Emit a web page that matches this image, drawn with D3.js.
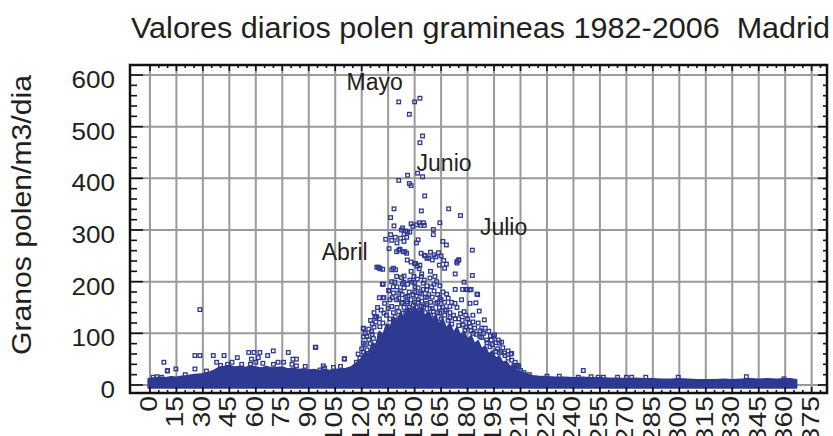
<!DOCTYPE html>
<html>
<head>
<meta charset="utf-8">
<script src="https://cdn.jsdelivr.net/npm/d3@7"></script>
<style>
body{margin:0;background:#fff}
svg{display:block}
</style>
</head>
<body>
<svg id="svgx"></svg>
<script>
// tick labels
var xTicks=[0,15,30,45,60,75,90,105,120,135,150,165,180,195,210,225,240,255,270,285,300,315,330,345,360,375];
var yTicks=[0,100,200,300,400,500,600];

// dense core of the cloud (day -> upper edge of the solid band)
var envDay=[-1,3,6,9,12,15,18,21,24,27,30,33,36,39,42,45,48,51,54,57,60,63,66,69,72,75,78,81,84,87,90,93,96,99,102,105,108,111,114,117,120,122,124,126,128,130,132,134,136,138,140,142,144,146,148,150,152,154,156,158,160,162,164,166,168,170,172,174,176,178,180,182,184,186,188,190,192,194,196,198,200,202,204,206,208,210,212,214,217,220,225,230,235,240,245,250,255,260,265,270,275,280,285,290,295,300,305,310,315,320,325,330,335,340,345,350,355,360,363,366.5];
var envVal=[12,14,15,14,16,15,17,18,20,21,22,24,28,34,36,38,35,36,34,37,35,33,36,33,34,35,31,33,30,31,29,30,28,30,28,30,31,32,35,43,52,64,60,82,78,104,96,118,110,132,124,140,130,150,138,152,140,150,132,142,126,136,118,128,110,120,102,112,96,104,88,96,80,86,70,76,60,66,52,56,44,46,36,38,28,26,24,21,18,17,16,15,15,14,15,14,14,13,13,12,13,12,12,11,11,12,11,10,10,10,11,10,11,12,11,12,11,12,12,10];

// single days standing out of the band [day, granos/m3]
var picos=[[141,548],[150,548],[153,555],[147,524],[153,469],[154.5,482],[146,406],[141,396],[147,390],[148,386],[151.7,410],[154.5,403],[155.7,366],[153.8,337],[138.3,341],[136.4,324],[138.3,308],[152.6,314],[155,314],[149,307],[143.2,304],[160.6,301],[160.6,291],[164.3,314],[169.3,341],[176,328],[145,298],[146,296],[148,312],[151,310],[136.4,291],[133.6,282],[142,284],[144,278],[140,275],[182.7,261],[166,278],[168,271],[135.5,264],[128.6,228],[130.4,225],[141,261],[144.5,258],[151,275],[152,281],[153.7,255],[156,250],[157,245],[159,257],[161,252],[162,248],[175,242],[174,236],[173,215],[182.7,212],[178,199],[179,185],[182,185],[185.7,175],[184.7,159],[186.6,143],[189.5,126],[193.4,87],[198,81],[195.3,97],[121,110],[125,125],[128,132],[132.6,139],[121,93],[121,81],[130,169],[132.6,169],[131.7,195],[135.5,182],[138.8,199],[143.8,199],
[142.5,300],[144,292],[145.5,286],[147.3,296],[153.5,309],[155.5,309],[141.7,263],[143.6,258],[145.5,255],[139.8,258],[137,280],[139,286],[163.5,256],[165,250],[166.5,241],[168,234],[150,235],[151.5,230],[152.6,225]];

var nube=[[129.4,228],[130.3,226],[131.9,224],[137,223],[138,226],[139.2,223],[145.8,242],[148,238],[150.5,235],[153,232],[155.5,251],[158,246],[160,242],[164,232],[167,226],[174,239],[175,242],
[139.8,210],[142.6,208],[144,211],[147.3,203],[149.6,210],[151.5,205],[153.9,210],[155.5,203],[158.7,207],[161.5,210],[162.5,200],
[137,200],[137.9,190],[143,196],[148.3,199],[150.2,190],[154.9,197],[159.6,190],[156.8,184],[164.3,192],[132.2,195],[135.3,183],[137.3,169],[132.2,169],
[168.1,176],[164.3,169],[173,185],[177.2,185],[179.8,185],[181.4,184],[185.3,176],
[139.8,165],[142.6,158],[145.5,161],[149.2,155],[152.1,165],[153.9,152],[156.8,158],[158.7,148],[147.3,145],[143.6,139],[151.1,139],[155.8,132],[160.6,142],[164.3,139],[167.2,145],[170,152],[172.9,158],[176.6,165],[181.4,158],[177.6,116],[181.6,113],[127.5,132],[128.5,132],[137.9,126],[141.7,119],[145.5,129],[135.1,113],[130.3,113],[125.6,103],[120.9,109],
[122.8,94],[126.6,90],[130.3,97],[134.1,100],[138.8,103],[151.1,106],[156.8,103],[162.5,106],[168.1,103],[173.8,100],[178.5,106],[183.2,100],[187,94],[190.8,87],[194.6,94],[197.4,87],[192.7,74],[199.3,83],
[141,178],[146,172],[150,180],[154,176],[157,170],[161,182],[163,160],[166,150],[170,130],[175,128],[179,135],[183,122],[188,110],[192,104]];

var nube2=[[126,118],[127,140],[128,122],[129,150],[130,128],[131,145],[132,120],[133,158],[134,135],[135,148],[136,165],[136,128],[137,152],[138,140],[138,178],[139,132],[140,150],[140,190],[141,142],[141,168],[142,182],[142,128],[143,160],[143,175],[144,150],[144,188],[145,140],[145,170],[146,158],[146,195],[147,180],[147,150],[148,165],[148,220],[149,175],[149,145],[150,160],[150,198],[151,150],[151,172],[152,188],[152,160],[153,145],[153,178],[154,162],[154,215],[155,150],[155,185],[156,170],[156,140],[157,192],[157,155],[158,175],[158,135],[159,160],[159,220],[160,148],[160,170],[161,135],[161,195],[162,158],[163,140],[163,175],[164,150],[165,128],[165,165],[166,180],[167,135],[167,160],[168,145],[169,125],[169,168],[170,140],[171,118],[171,160],[172,135],[173,128],[174,150],[175,115],[176,138],[177,125],[178,142],[179,112],[180,128],[181,120],[182,105],[183,135],[184,110],[185,98],[186,120],[187,105],[188,92],[189,100],[190,110],[191,82],[193,95],[194,78],[196,82],[197,70],[199,65],[201,62],[203,52],[205,48],[207,44],[209,35],
[118,60],[119,52],[120,70],[121,64],[122,78],[123,68],[124,88],[125,80],[122,100],[124,108],[126,98],[127,112]];

var resto=[[1.9,15],[4,16],[6.6,15],[7.9,44],[9.8,27],[10,28],[14.7,31],[20,20],[25.5,57],[28.3,57],[25.5,31],[28.3,146],[32,27],[35.9,57],[37.8,44],[42,57],[46.5,44],[49.5,53],[56,63],[59,63],[62.3,63],[57.5,50],[61.4,53],[60,44],[57,40],[66.7,57],[69.9,66],[72.6,44],[75.7,44],[78.4,63],[81,50],[83,50],[80.5,40],[83,37],[94,73],[98.2,37],[99,33],[110.1,50],[117,44],[119,44],[96.4,29],[40,38],[44,40],[52,40],[64,42],[70,40],[88,36],[104,34],[108,36],[93.7,73],[110.3,51],
[205,61],[201.2,57],[206.3,38],[208.7,38],[204.6,60],[207.8,37],[245.6,28],[242.7,15],[254,15],[257,15],[265,15],[270,15],[273,15],[281,15],[299.4,15],[338,16],[359.3,12],[200,72],[203,66],[196,65],[198,62],[210,28],[212,24],[215,20],[225,17],[232,17],[250,16]];

var meses=[{name:'Mayo',day:111.4,val:571},{name:'Junio',day:151.1,val:414},{name:'Julio',day:187,val:290},{name:'Abril',day:97.3,val:242}];
var titulo='Valores diarios polen gramineas 1982-2006  Madrid';
var ytitulo='Granos polen/m3/dia';

var widthA=833, heightA=436;
var frame={left:130,right:827,top:65,bottom:393};
var azul='#2e3992';
var fontF='"Liberation Sans", Arial, Helvetica, sans-serif';

var svg=d3.select('#svgx').attr('width',widthA).attr('height',heightA);

var x=d3.scaleLinear().domain([-11.3,383.7]).range([frame.left,frame.right]);
var y=d3.scaleLinear().domain([-15.5,619.4]).range([frame.bottom,frame.top]);

svg.append('defs').append('clipPath').attr('id','clip')
  .append('rect').attr('x',frame.left).attr('y',frame.top)
  .attr('width',frame.right-frame.left).attr('height',frame.bottom-frame.top);

// grid
var grid=svg.append('g').attr('class','grid');
grid.selectAll('.vg').data(xTicks).enter().append('line')
  .attr('x1',d=>x(d)).attr('x2',d=>x(d)).attr('y1',frame.top).attr('y2',frame.bottom)
  .attr('stroke','#9a9a9a').attr('stroke-width',2);
grid.selectAll('.hg').data(yTicks).enter().append('line')
  .attr('y1',d=>y(d)).attr('y2',d=>y(d)).attr('x1',frame.left).attr('x2',frame.right)
  .attr('stroke','#9a9a9a').attr('stroke-width',2);

// data
var plot=svg.append('g').attr('clip-path','url(#clip)');
var core=envDay.map((d,i)=>[d,envVal[i]]);
var area=d3.area().x(d=>x(d[0])).y0(y(-6)).y1(d=>y(d[1]));
plot.append('path').datum(core).attr('d',area)
  .attr('fill',azul).attr('stroke',azul).attr('stroke-width',1.5).attr('stroke-linejoin','round');

var todos=picos.concat(nube,nube2,resto);
var sq=3.6;
plot.selectAll('.pt').data(todos).enter().append('rect')
  .attr('class','pt')
  .attr('x',d=>x(d[0])-sq/2).attr('y',d=>y(d[1])-sq/2)
  .attr('width',sq).attr('height',sq)
  .attr('fill','none').attr('stroke',azul).attr('stroke-width',1.3);

// frame
svg.append('rect').attr('x',frame.left).attr('y',frame.top)
  .attr('width',frame.right-frame.left).attr('height',frame.bottom-frame.top)
  .attr('fill','none').attr('stroke','#111').attr('stroke-width',2.5);

// ticks (all pointing inward)
var tk=svg.append('g').attr('stroke','#111').attr('stroke-width',1.6);
var xMinor=d3.range(0,381,5), yMinor=d3.range(0,601,20);
tk.selectAll('.xb').data(xMinor).enter().append('line')
  .attr('x1',d=>x(d)).attr('x2',d=>x(d))
  .attr('y1',frame.bottom).attr('y2',d=>frame.bottom-(d%15===0?6:3));
tk.selectAll('.xt').data(xMinor).enter().append('line')
  .attr('x1',d=>x(d)).attr('x2',d=>x(d))
  .attr('y1',frame.top).attr('y2',d=>frame.top+(d%15===0?6:3));
tk.selectAll('.yl').data(yMinor).enter().append('line')
  .attr('y1',d=>y(d)).attr('y2',d=>y(d))
  .attr('x1',frame.left).attr('x2',d=>frame.left+(d%100===0?13:7));
tk.selectAll('.yr').data(yMinor).enter().append('line')
  .attr('y1',d=>y(d)).attr('y2',d=>y(d))
  .attr('x1',frame.right).attr('x2',d=>frame.right-(d%100===0?9:4));

// tick labels
svg.selectAll('.ylab').data(yTicks).enter().append('text')
  .attr('class','ylab')
  .attr('x',115).attr('y',d=>y(d)+13)
  .attr('text-anchor','end')
  .attr('textLength',d=>String(d).length*14.5).attr('lengthAdjust','spacingAndGlyphs')
  .style('font-family',fontF).style('font-size','23px').attr('fill','#231f20')
  .text(d=>d);

svg.selectAll('.xlab').data(xTicks).enter().append('text')
  .attr('class','xlab')
  .attr('transform',d=>`translate(${x(d)+7},396) rotate(-90)`)
  .attr('text-anchor','end')
  .attr('textLength',d=>String(d).length*15.8).attr('lengthAdjust','spacingAndGlyphs')
  .style('font-family',fontF).style('font-size','23px').attr('fill','#231f20')
  .text(d=>d);

// month notes
svg.selectAll('.mes').data(meses).enter().append('text')
  .attr('x',d=>x(d.day)).attr('y',d=>y(d.val))
  .style('font-family',fontF).style('font-size','23px').attr('fill','#231f20')
  .text(d=>d.name);

// titles
svg.append('text').attr('x',131).attr('y',38)
  .attr('textLength',699).attr('lengthAdjust','spacingAndGlyphs')
  .style('font-family',fontF).style('font-size','30px').attr('fill','#231f20')
  .style('white-space','pre')
  .text(titulo);

svg.append('text')
  .attr('transform','translate(31,215) rotate(-90)')
  .attr('text-anchor','middle')
  .attr('textLength',280).attr('lengthAdjust','spacingAndGlyphs')
  .style('font-family',fontF).style('font-size','27px').attr('fill','#231f20')
  .text(ytitulo);
</script>
</body>
</html>
